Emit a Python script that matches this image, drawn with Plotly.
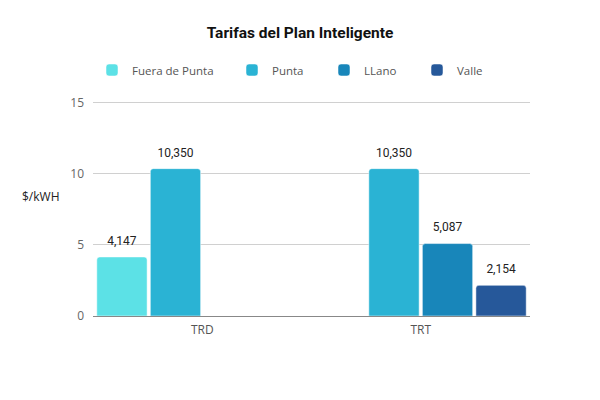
import plotly.graph_objects as go

categories = ['TRD', 'TRT']
fuera_de_punta = [4.147, None]
punta = [10.350, 10.350]
llano = [None, 5.087]
valle = [None, 2.154]

series = [
    ('Fuera de Punta', fuera_de_punta, '#5ce1e6'),
    ('Punta', punta, '#2ab3d4'),
    ('LLano', llano, '#1886ba'),
    ('Valle', valle, '#26589a'),
]
legend_x = [92, 232, 324, 417]  # page px where each legend entry starts

# page body has an 8px margin, so work in a 592x392 figure
W, H = 592, 392
OFF = 8

fig = go.Figure()
for i, (name, vals, color) in enumerate(series):
    fig.add_trace(go.Bar(
        x=categories, y=vals, name=name, marker_color=color,
        legend='legend' if i == 0 else 'legend%d' % (i + 1),
        hoverinfo='skip'))
# value labels as grouped scatter text so they can sit a little above the bars
for name, vals, color in series:
    fig.add_trace(go.Scatter(
        x=categories, y=vals, mode='markers+text', showlegend=False,
        texttemplate='%{y:.3f}', textposition='top center', cliponaxis=False,
        marker=dict(size=13, opacity=0), hoverinfo='skip',
        textfont=dict(family='Roboto', size=12, color='#222222')))

legends = {}
for i, lx in enumerate(legend_x):
    key = 'legend' if i == 0 else 'legend%d' % (i + 1)
    legends[key] = dict(orientation='h', xref='container', yref='container',
                        x=(lx - OFF) / W, xanchor='left', y=1 - (70 - OFF) / H,
                        yanchor='middle', bgcolor='rgba(0,0,0,0)',
                        font=dict(family='Open Sans', size=11.5, color='#555555'),
                        itemwidth=30)

fig.update_layout(
    template='plotly_white', width=W, height=H,
    separators=',.',
    barmode='group', bargap=0.02, bargroupgap=0.06, barcornerradius=3,
    scattermode='group', scattergap=0.02,
    title=dict(text='<b>Tarifas del Plan Inteligente</b>',
               x=(300 - OFF) / W, y=1 - (33 - OFF) / H,
               xref='container', yref='container',
               xanchor='center', yanchor='middle',
               font=dict(family='Roboto', size=15.5, color='#111111')),
    font=dict(family='Open Sans', size=12, color='#555555'),
    margin=dict(l=93 - OFF, r=70, t=101 - OFF, b=84, autoexpand=False),
    plot_bgcolor='white', paper_bgcolor='white',
    showlegend=True,
    **legends,
)
fig.update_yaxes(range=[0, 15.1], tickvals=[0, 5, 10, 15], gridcolor='#d0d0d0',
                 zeroline=True, zerolinecolor='#888888', zerolinewidth=1,
                 ticks='', ticklabelstandoff=8,
                 tickfont=dict(family='Open Sans', size=12, color='#666666'))
fig.update_xaxes(showline=True, linecolor='#888888', ticks='', ticklabelstandoff=3,
                 tickfont=dict(family='Open Sans', size=12, color='#555555'))
fig.add_annotation(text='$/kWH', xref='paper', yref='paper', x=-0.07, y=0.558,
                   xanchor='right', yanchor='middle', showarrow=False,
                   font=dict(family='Open Sans', size=12, color='#222222'))

fig.write_html('out.html')
